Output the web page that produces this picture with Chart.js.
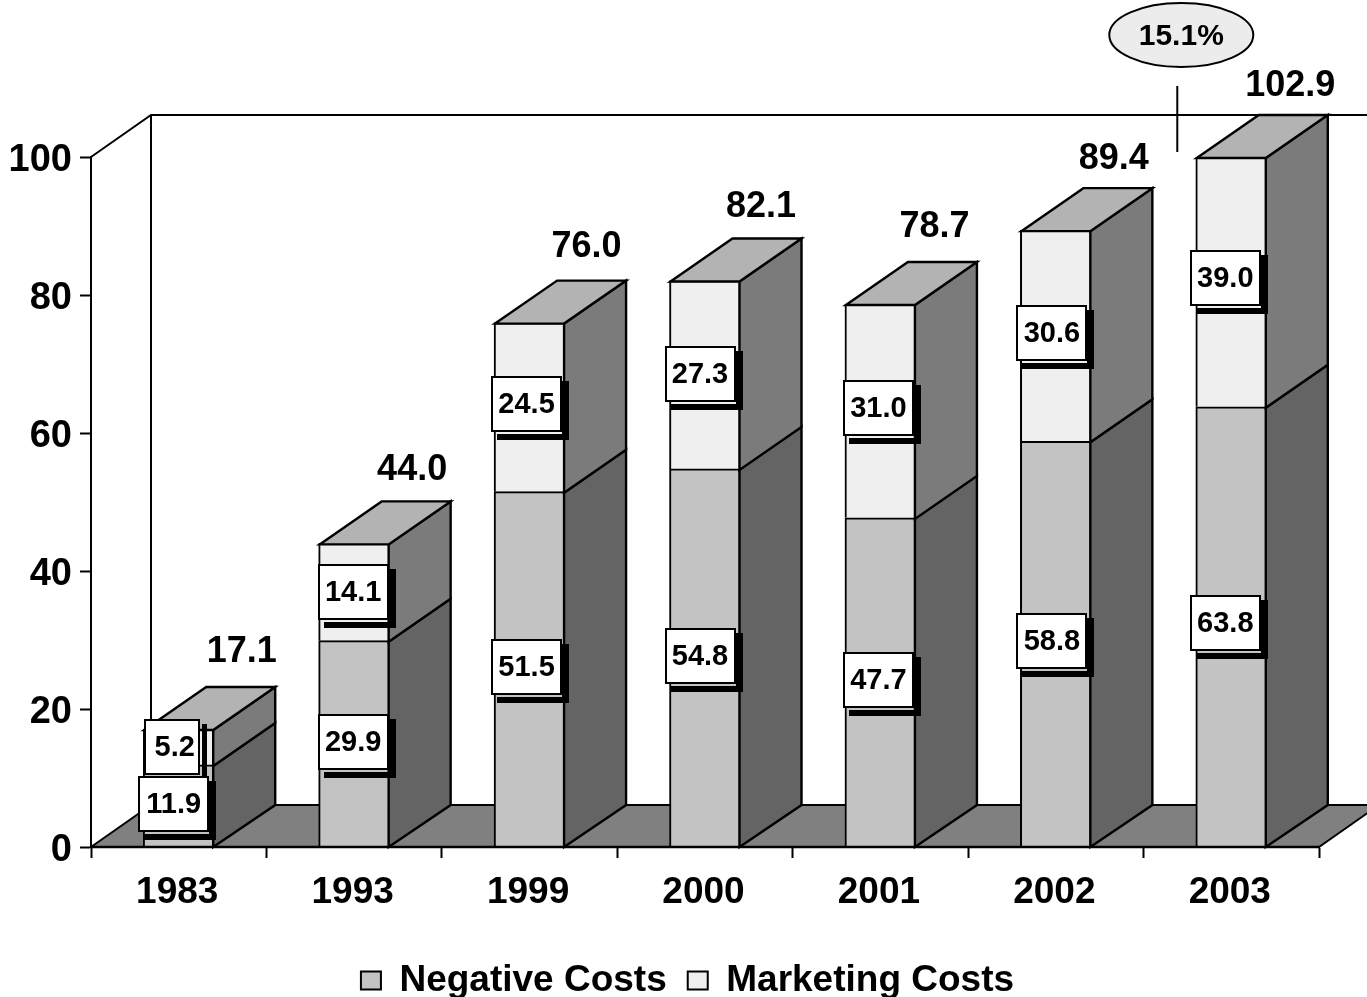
<!DOCTYPE html>
<html>
<head>
<meta charset="utf-8">
<title>Costs</title>
<script src="https://cdn.jsdelivr.net/npm/chart.js@4/dist/chart.umd.min.js"></script>
<style>
  html, body { margin: 0; padding: 0; background: #fff; overflow: hidden; }
  canvas { display: block; }
</style>
</head>
<body>
<canvas id="myChart" width="1367" height="997"></canvas>
<script>
const years = ["1983", "1993", "1999", "2000", "2001", "2002", "2003"];
const negativeCosts = [11.9, 29.9, 51.5, 54.8, 47.7, 58.8, 63.8];
const marketingCosts = [5.2, 14.1, 24.5, 27.3, 31.0, 30.6, 39.0];
const totals = [17.1, 44.0, 76.0, 82.1, 78.7, 89.4, 102.9];
const growthLabel = "15.1%";

// hand placed labels, the original has them nudged one by one
const totalOffsetX = [63, 58, 57, 56, 54, 58, 59];
const totalOffsetY = [-35, -31, -34, -31, -35, -29, -29];
const negBoxX = [-5, -1, -3, -5, -2, -4, -6];
const negBoxY = [-2, -2, -2, -2, -2, -3, -4];
const mktBoxX = [-7, -1, -3, -5, -2, -4, -6];
const mktBoxY = [0, 0, -3, -1, -3, -3, -4];

const FONT = '"Liberation Sans", Arial, sans-serif';
const DEPTH_X = 62;
const DEPTH_Y = 43;
const colors = {
  neg: "#c3c3c3", mkt: "#efefef",
  negSide: "#646464", mktSide: "#7b7b7b",
  top: "#b3b3b3", floor: "#808080", oval: "#ececec"
};

function quad(ctx, pts, fill) {
  ctx.beginPath();
  ctx.moveTo(pts[0][0], pts[0][1]);
  for (let i = 1; i < pts.length; i++) ctx.lineTo(pts[i][0], pts[i][1]);
  ctx.closePath();
  ctx.fillStyle = fill;
  ctx.fill();
  ctx.stroke();
}

function drawBox(ctx, cx, cy, w, h, text, gap, textShift) {
  const l = Math.round(cx - w / 2), t = Math.round(cy - h / 2);
  ctx.fillStyle = "#000";
  ctx.fillRect(l + w + gap, t + 5, 7 - gap, h + 3);
  ctx.fillRect(l + 6, t + h + 2, w + 1, 6);
  ctx.fillStyle = "#fff";
  ctx.fillRect(l, t, w, h);
  ctx.strokeStyle = "#000";
  ctx.lineWidth = 2;
  ctx.strokeRect(l + 1, t + 1, w - 2, h - 2);
  ctx.fillStyle = "#000";
  ctx.font = "bold 29px " + FONT;
  ctx.textAlign = "center";
  ctx.textBaseline = "middle";
  ctx.fillText(text, cx + textShift, cy + 1);
}

// floor and back wall go under the bars
const wallPlugin = {
  id: "wall",
  afterLayout(chart) {
    // legend is centred a bit right of the canvas in the original
    chart.legend.left = 56;
    chart.legend.right = 1319;
  },
  beforeDatasetsDraw(chart) {
    const ctx = chart.ctx;
    const { left, right, top, bottom } = chart.chartArea;
    const dx = 60, dy = 42;
    ctx.save();
    ctx.strokeStyle = "#000";
    ctx.lineWidth = 2;
    quad(ctx, [[left, bottom], [left + dx, bottom - dy], [right + dx, bottom - dy], [right, bottom]], colors.floor);
    ctx.beginPath();
    ctx.moveTo(left, top);
    ctx.lineTo(left + dx, top - dy);
    ctx.lineTo(chart.width, top - dy);
    ctx.moveTo(left + dx, top - dy);
    ctx.lineTo(left + dx, bottom - dy);
    ctx.stroke();
    ctx.restore();
  }
};

// 3d faces, then all the labels on top
const facesPlugin = {
  id: "faces",
  afterDatasetsDraw(chart) {
    const ctx = chart.ctx;
    const y = chart.scales.y;
    const negMeta = chart.getDatasetMeta(0);
    const base = chart.chartArea.bottom;
    ctx.save();
    ctx.strokeStyle = "#000";
    ctx.lineWidth = 2.4;
    years.forEach((year, i) => {
      const bar = negMeta.data[i];
      const xl = bar.x - bar.width / 2 + 1;
      const xr = bar.x + bar.width / 2 - 1;
      const topVal = Math.min(negativeCosts[i] + marketingCosts[i], y.max);
      const yTop = y.getPixelForValue(topVal) + 1;
      const yMid = y.getPixelForValue(negativeCosts[i]) + 1;
      quad(ctx, [[xr, base], [xr + DEPTH_X, base - 42], [xr + DEPTH_X, yMid - DEPTH_Y], [xr, yMid]], colors.negSide);
      quad(ctx, [[xr, yMid], [xr + DEPTH_X, yMid - DEPTH_Y], [xr + DEPTH_X, yTop - DEPTH_Y], [xr, yTop]], colors.mktSide);
      quad(ctx, [[xl, yTop], [xl + DEPTH_X, yTop - DEPTH_Y], [xr + DEPTH_X, yTop - DEPTH_Y], [xr, yTop]], colors.top);
    });
    ctx.beginPath();
    ctx.moveTo(chart.chartArea.left, base);
    ctx.lineTo(chart.chartArea.right, base);
    ctx.stroke();

    years.forEach((year, i) => {
      const bar = negMeta.data[i];
      const negPx = y.getPixelForValue(negativeCosts[i]);
      const topVal = Math.min(negativeCosts[i] + marketingCosts[i], y.max);
      const topPx = y.getPixelForValue(topVal);
      // marketing first, in 1983 the negative box sits over it
      const mw = i === 0 ? 56 : 71;
      const gap = i === 0 ? 2 : 0;
      const shift = i === 0 ? 3 : 0;
      drawBox(ctx, bar.x + mktBoxX[i], (negPx + topPx) / 2 + mktBoxY[i], mw, 56, marketingCosts[i].toFixed(1), gap, shift);
      drawBox(ctx, bar.x + negBoxX[i], (negPx + base) / 2 + negBoxY[i], 71, 56, negativeCosts[i].toFixed(1), 0, 0);

      ctx.fillStyle = "#000";
      ctx.font = "bold 36px " + FONT;
      ctx.textAlign = "center";
      ctx.textBaseline = "middle";
      ctx.fillText(totals[i].toFixed(1), bar.x + totalOffsetX[i], topPx - DEPTH_Y + totalOffsetY[i] + 1);
    });

    // growth oval and its marker
    const last = negMeta.data[years.length - 1];
    const ovalX = last.x - 50;
    ctx.lineWidth = 2;
    ctx.beginPath();
    ctx.ellipse(ovalX, 35, 72, 32, 0, 0, Math.PI * 2);
    ctx.fillStyle = colors.oval;
    ctx.fill();
    ctx.stroke();
    ctx.beginPath();
    ctx.moveTo(ovalX - 4, 86);
    ctx.lineTo(ovalX - 4, 152);
    ctx.stroke();
    ctx.fillStyle = "#000";
    ctx.font = "bold 30px " + FONT;
    ctx.textAlign = "center";
    ctx.textBaseline = "middle";
    ctx.fillText(growthLabel, ovalX, 37);
    ctx.restore();
  }
};

const ctx = document.getElementById("myChart");
new Chart(ctx, {
  type: "bar",
  data: {
    labels: years,
    datasets: [
      {
        label: "Negative Costs",
        data: negativeCosts,
        backgroundColor: colors.neg,
        borderColor: "#000",
        borderWidth: 2,
        borderSkipped: "bottom"
      },
      {
        label: "Marketing Costs",
        data: marketingCosts,
        backgroundColor: colors.mkt,
        borderColor: "#000",
        borderWidth: 2,
        borderSkipped: "bottom"
      }
    ]
  },
  options: {
    responsive: false,
    animation: false,
    barThickness: 71,
    layout: { padding: { left: 0, right: 48, top: 157, bottom: -12 } },
    plugins: {
      tooltip: { enabled: false },
      title: { display: false },
      legend: {
        position: "bottom",
        labels: {
          color: "#000",
          font: { family: FONT, size: 37, weight: "bold" },
          boxWidth: 20,
          boxHeight: 18,
          padding: 21
        }
      }
    },
    scales: {
      x: {
        stacked: true,
        afterFit(scale) { scale.height = 94; },
        border: { color: "#000", width: 2 },
        grid: { drawOnChartArea: false, color: "#000", tickColor: "#000", tickWidth: 2, tickLength: 11 },
        ticks: {
          color: "#000",
          autoSkip: false,
          maxRotation: 0,
          padding: 13,
          labelOffset: -1.5,
          font: { family: FONT, size: 37, weight: "bold" }
        }
      },
      y: {
        stacked: true,
        min: 0,
        max: 100,
        afterFit(scale) { scale.width = 91; },
        border: { color: "#000", width: 2 },
        grid: { drawOnChartArea: false, color: "#000", tickColor: "#000", tickWidth: 2, tickLength: 11 },
        ticks: {
          color: "#000",
          stepSize: 20,
          padding: 8,
          labelOffset: 4,
          font: { family: FONT, size: 38, weight: "bold" }
        }
      }
    }
  },
  plugins: [wallPlugin, facesPlugin]
});
</script>
</body>
</html>
